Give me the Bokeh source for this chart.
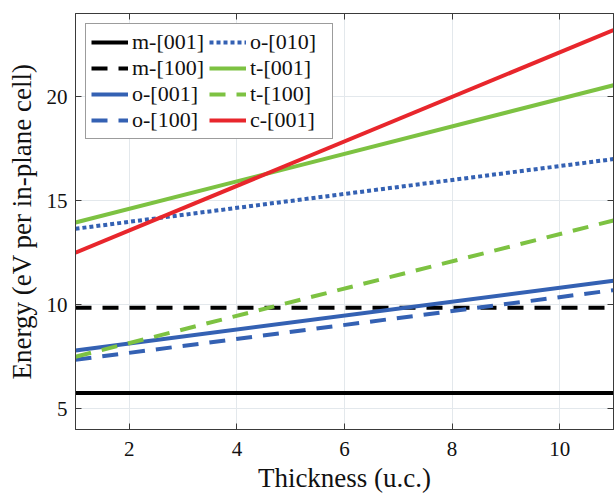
from bokeh.plotting import figure
from bokeh.models import LinearAxis, Range1d, Legend, LegendItem, FixedTicker, CustomJSTickFormatter
from bokeh.embed import file_html
from bokeh.resources import INLINE

# ---- data ----
thickness = [1, 11]
m001 = [5.75, 5.75]
m100 = [9.85, 9.85]
o001 = [7.8, 11.15]
o100 = [7.35, 10.7]
o010 = [13.65, 17.0]
t001 = [13.95, 20.55]
t100 = [7.5, 14.05]
c001 = [12.5, 23.2]

x_ticks = [2, 4, 6, 8, 10]
y_ticks = [5, 10, 15, 20]

BLACK = "#000000"
BLUE = "#3461b3"
GREEN = "#7dc242"
RED = "#e8262c"
FONT = "Liberation Serif"

p = figure(width=614, height=495, output_backend="svg", toolbar_location=None,
           x_range=Range1d(1, 11), y_range=Range1d(4, 24),
           min_border_left=75, min_border_right=1, min_border_top=13, min_border_bottom=66)
p.background_fill_color = "white"
p.border_fill_color = "white"
p.outline_line_color = "#3a3a3a"
p.outline_line_width = 1

LW = 4
r_m001 = p.line(thickness, m001, line_color=BLACK, line_width=LW)
r_m100 = p.line(thickness, m100, line_color=BLACK, line_width=LW, line_dash="16 11")
r_o001 = p.line(thickness, o001, line_color=BLUE, line_width=LW)
r_o100 = p.line(thickness, o100, line_color=BLUE, line_width=LW, line_dash="16 11")
r_o010 = p.line(thickness, o010, line_color=BLUE, line_width=LW, line_dash="4 3")
r_t001 = p.line(thickness, t001, line_color=GREEN, line_width=LW)
r_t100 = p.line(thickness, t100, line_color=GREEN, line_width=LW, line_dash="16 11")
r_c001 = p.line(thickness, c001, line_color=RED, line_width=LW)

for ax in (p.xaxis[0], p.yaxis[0]):
    ax.major_tick_in = 6
    ax.major_tick_out = 0
    ax.minor_tick_line_color = None
    ax.axis_line_color = "#3a3a3a"
    ax.major_tick_line_color = "#3a3a3a"
    ax.major_label_text_font = FONT
    ax.major_label_text_font_size = "21px"
    ax.major_label_text_color = "#111111"
    ax.axis_label_text_font = FONT
    ax.axis_label_text_font_size = "27px"
    ax.axis_label_text_font_style = "normal"
    ax.axis_label_text_color = "#111111"

p.xaxis[0].ticker = FixedTicker(ticks=x_ticks)
p.yaxis[0].ticker = FixedTicker(ticks=y_ticks)
p.xaxis[0].axis_label = "Thickness (u.c.)"
p.yaxis[0].axis_label = "Energy (eV per in-plane cell)"
p.xaxis[0].major_label_standoff = 12
p.yaxis[0].major_label_standoff = 8
p.xaxis[0].axis_label_standoff = 4
p.yaxis[0].axis_label_standoff = 7

# inward ticks on the top and right edges (no labels)
for loc, tk in (("above", x_ticks), ("right", y_ticks)):
    ax = LinearAxis(ticker=FixedTicker(ticks=tk),
                    formatter=CustomJSTickFormatter(code="return ''"))
    ax.major_tick_in = 6
    ax.major_tick_out = 0
    ax.minor_tick_line_color = None
    ax.axis_line_color = "#3a3a3a"
    ax.major_tick_line_color = "#3a3a3a"
    ax.major_label_text_font_size = "1px"
    ax.major_label_standoff = 0
    p.add_layout(ax, loc)

p.grid.grid_line_color = "#e3e8ec"
p.grid.grid_line_width = 1
p.xgrid.ticker = FixedTicker(ticks=x_ticks)
p.ygrid.ticker = FixedTicker(ticks=y_ticks)

legend = Legend(items=[
    LegendItem(label="m-[001]", renderers=[r_m001]),
    LegendItem(label="m-[100]", renderers=[r_m100]),
    LegendItem(label="o-[001]", renderers=[r_o001]),
    LegendItem(label="o-[100]", renderers=[r_o100]),
    LegendItem(label="o-[010]", renderers=[r_o010]),
    LegendItem(label="t-[001]", renderers=[r_t001]),
    LegendItem(label="t-[100]", renderers=[r_t100]),
    LegendItem(label="c-[001]", renderers=[r_c001]),
], location="top_left", nrows=4, orientation="vertical")
legend.label_text_font = FONT
legend.label_text_font_size = "22px"
legend.label_text_color = "#111111"
legend.glyph_width = 37
legend.glyph_height = 20
legend.label_height = 20
legend.label_width = 77
legend.label_standoff = 4
legend.spacing = 0
legend.padding = 5
legend.margin = 10
legend.border_line_color = "#3a3a3a"
legend.border_line_width = 1
legend.background_fill_alpha = 1
p.add_layout(legend, "center")

open("out.html", "w").write(file_html(p, INLINE))
